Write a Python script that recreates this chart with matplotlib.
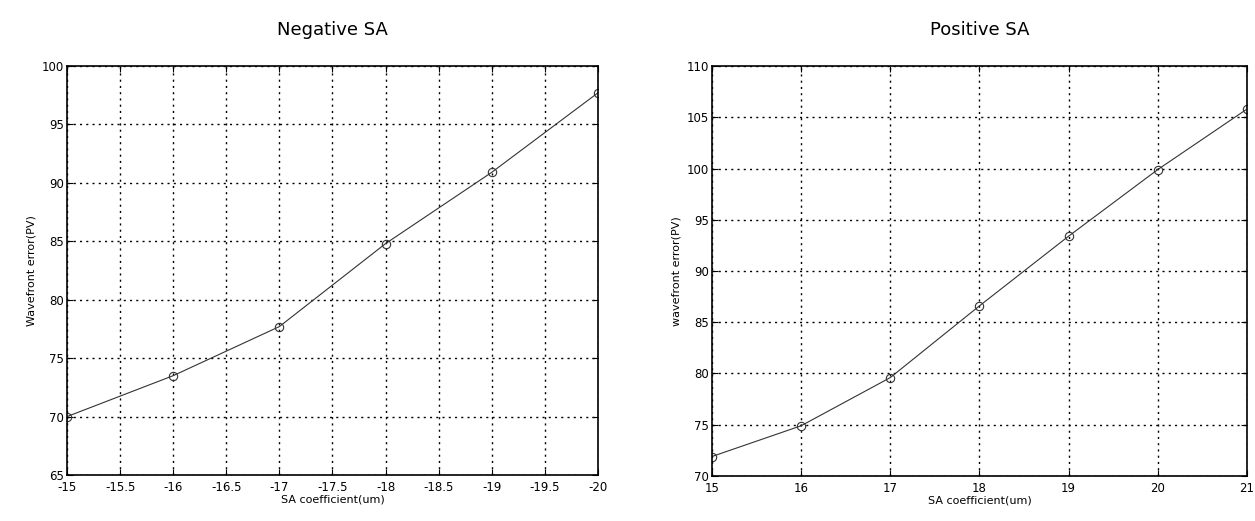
import matplotlib
matplotlib.use("Agg")
import matplotlib.pyplot as plt

neg_x = [-15, -16, -17, -18, -19, -20]
neg_y = [70.0, 73.5, 77.7, 84.8, 90.9, 97.7]
pos_x = [15, 16, 17, 18, 19, 20, 21]
pos_y = [71.9, 74.9, 79.6, 86.6, 93.4, 99.9, 105.8]

neg_xticks = [-15, -15.5, -16, -16.5, -17, -17.5, -18, -18.5, -19, -19.5, -20]
neg_xlabels = ["-15", "-15.5", "-16", "-16.5", "-17", "-17.5", "-18", "-18.5", "-19", "-19.5", "-20"]
neg_yticks = [65, 70, 75, 80, 85, 90, 95, 100]
pos_xticks = [15, 16, 17, 18, 19, 20, 21]
pos_yticks = [70, 75, 80, 85, 90, 95, 100, 105, 110]

plt.rcParams['font.family'] = ['DejaVu Sans']
fig = plt.figure(figsize=(12.55, 5.21), dpi=100)
ax1 = fig.add_axes([0.0534, 0.0883, 0.423, 0.785])
ax2 = fig.add_axes([0.5673, 0.0864, 0.4263, 0.7869])

def style(ax):
    ax.grid(True, color='black', linestyle=(0, (1.5, 3)), linewidth=1.0)
    ax.tick_params(direction='in', top=True, right=True, labelsize=8.5, length=4)
    ax.tick_params(axis='x', pad=4)
    ax.tick_params(axis='y', pad=2)
    for s in ax.spines.values():
        s.set_linewidth(1.2)
        s.set_color('black')

ax1.plot(neg_x, neg_y, color='#333333', linewidth=0.8, marker='o', markersize=6,
         markerfacecolor='none', markeredgecolor='#333333', markeredgewidth=0.8)
ax1.set_xlim(-15, -20)
ax1.set_ylim(65, 100)
ax1.set_xticks(neg_xticks)
ax1.set_xticklabels(neg_xlabels)
ax1.set_yticks(neg_yticks)
style(ax1)
ax1.set_xlabel("SA coefficient(um)", fontsize=8, labelpad=1)
ax1.set_ylabel("Wavefront error(PV)", fontsize=8, labelpad=4)
ax1.set_title("Negative SA", fontsize=13, pad=22)

ax2.plot(pos_x, pos_y, color='#333333', linewidth=0.8, marker='o', markersize=6,
         markerfacecolor='none', markeredgecolor='#333333', markeredgewidth=0.8)
ax2.set_xlim(15, 21)
ax2.set_ylim(70, 110)
ax2.set_xticks(pos_xticks)
ax2.set_yticks(pos_yticks)
style(ax2)
ax2.set_xlabel("SA coefficient(um)", fontsize=8, labelpad=1)
ax2.set_ylabel("wavefront error(PV)", fontsize=8, labelpad=4)
ax2.set_title("Positive SA", fontsize=13, pad=22)

fig.savefig("out.png", dpi=100)
